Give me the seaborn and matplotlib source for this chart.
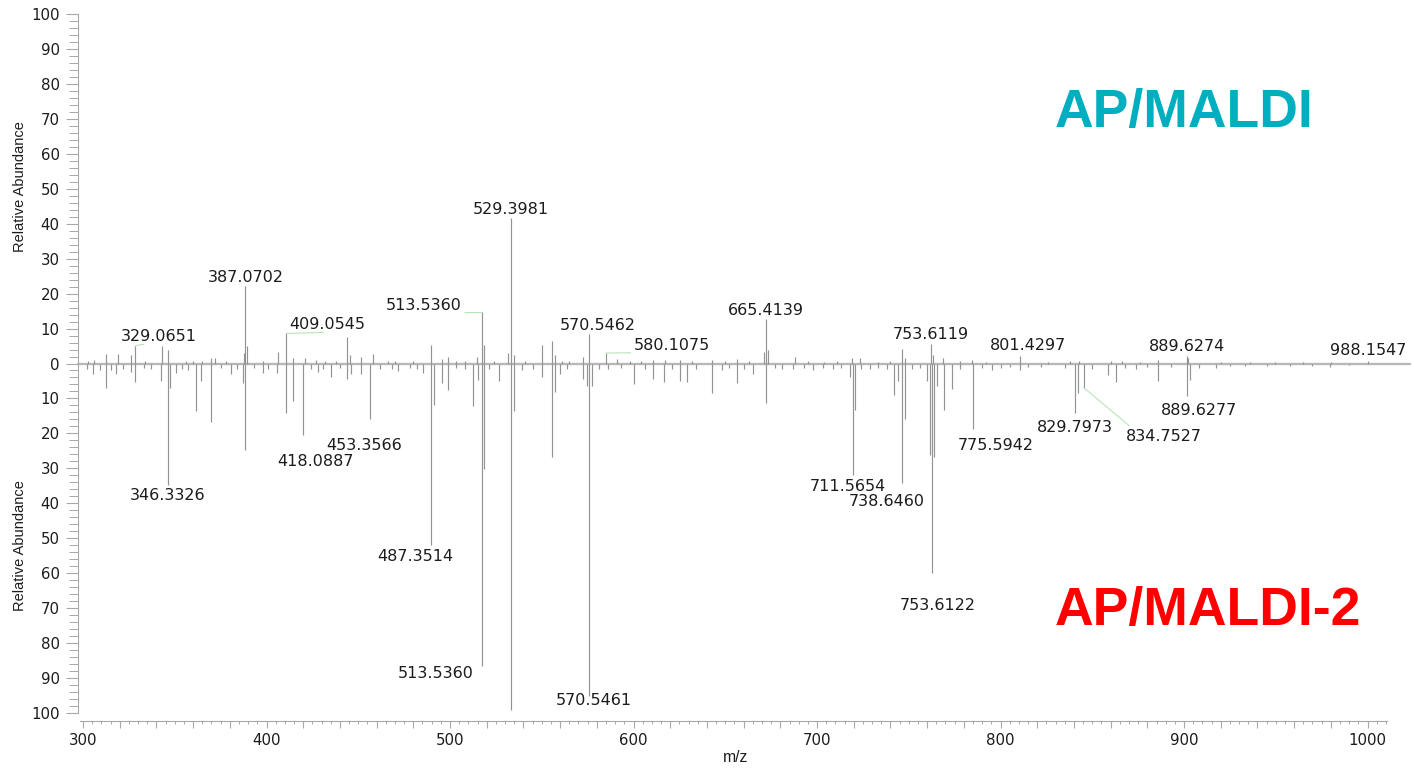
import matplotlib
matplotlib.use("Agg")
import matplotlib.pyplot as plt
import seaborn as sns
import pandas as pd
from matplotlib import font_manager
from matplotlib.ticker import MultipleLocator, FuncFormatter

# ---------------- data ----------------
# AP/MALDI (upper trace): m/z, relative abundance
top_mz = [302.5, 306.0, 312.7, 319.0, 326.3, 328.5, 334.0, 343.0, 346.3, 356.0, 360.0, 365.0,
          370.0, 371.8, 378.0, 387.6, 388.5, 389.5, 398.0, 406.3, 410.8, 414.4, 420.8, 427.0,
          432.0, 438.0, 444.0, 445.3, 451.7, 458.3, 466.0, 470.0, 480.0, 489.6, 495.5, 499.1,
          503.0, 508.0, 514.5, 517.3, 518.5, 524.0, 531.8, 533.1, 534.9, 541.0, 550.0, 555.4,
          557.2, 561.0, 565.0, 572.7, 575.9, 585.0, 590.8, 598.0, 604.0, 610.8, 617.2, 625.3,
          632.0, 642.6, 650.0, 656.2, 663.0, 671.1, 672.2, 673.5, 688.0, 695.0, 704.0, 711.0,
          718.9, 723.4, 733.0, 740.0, 746.1, 748.0, 762.0, 763.4, 768.9, 778.0, 784.5, 792.0,
          810.4, 826.0, 838.0, 843.0, 860.0, 866.0, 876.0, 885.6, 901.4, 902.3, 920.0, 936.0,
          949.7, 965.0, 980.0, 1000.5]
top_int = [0.8, 1.0, 2.7, 2.7, 2.3, 5.1, 0.8, 4.9, 4.0, 0.8, 0.7, 0.8,
           1.5, 1.5, 0.6, 2.9, 22.3, 4.9, 0.6, 3.4, 8.6, 1.5, 1.5, 1.0,
           0.8, 0.6, 7.5, 2.5, 2.0, 2.8, 0.6, 0.8, 0.6, 5.2, 1.4, 1.8,
           0.8, 0.6, 2.0, 14.6, 5.3, 0.8, 3.0, 41.5, 2.5, 0.8, 5.2, 6.5,
           2.5, 0.8, 0.6, 1.8, 8.4, 3.0, 1.3, 0.8, 0.6, 1.0, 1.0, 1.0,
           0.7, 1.0, 0.7, 1.2, 0.6, 3.2, 12.8, 4.0, 1.9, 0.6, 0.5, 0.6,
           1.7, 1.7, 0.5, 0.7, 4.1, 1.5, 5.6, 2.5, 1.5, 0.8, 1.0, 0.5,
           2.2, 0.5, 0.8, 0.7, 0.7, 0.6, 0.5, 1.0, 2.2, 1.5, 0.5, 0.4,
           0.5, 0.4, 0.3, 0.6]

# AP/MALDI-2 (lower, mirrored trace): m/z, relative abundance
bot_mz = [302.0, 305.4, 309.0, 312.4, 315.0, 318.0, 322.0, 326.3, 328.5, 333.0, 337.0, 342.7,
          346.3, 347.6, 350.8, 354.0, 357.0, 361.7, 364.5, 370.0, 375.0, 380.8, 384.0, 387.2,
          388.5, 393.0, 398.0, 401.0, 405.9, 410.8, 414.4, 419.9, 424.0, 428.0, 431.0, 435.3,
          440.0, 444.0, 446.2, 451.7, 456.2, 462.0, 468.2, 471.8, 478.0, 482.0, 485.5, 489.6,
          491.3, 495.5, 499.1, 503.0, 508.0, 512.4, 515.4, 517.3, 518.5, 521.0, 526.9, 533.1,
          535.0, 539.0, 545.0, 550.0, 555.4, 557.2, 560.0, 564.0, 572.7, 574.5, 575.9, 577.2,
          581.0, 586.0, 593.0, 600.2, 606.0, 610.8, 616.5, 621.0, 625.3, 628.9, 634.0, 642.6,
          648.0, 652.0, 656.2, 660.0, 664.9, 672.2, 677.0, 681.0, 687.1, 693.0, 698.0, 703.0,
          708.9, 713.0, 718.0, 719.5, 720.7, 724.0, 728.9, 733.0, 738.0, 741.9, 744.3, 746.5,
          748.1, 752.0, 756.0, 759.8, 761.6, 762.5, 763.8, 765.2, 769.2, 773.4, 778.0, 784.8,
          790.0, 795.5, 800.0, 805.0, 810.4, 815.0, 822.0, 835.0, 840.5, 842.0, 845.3, 850.0,
          858.4, 862.8, 868.0, 873.6, 880.0, 885.6, 893.0, 901.8, 903.3, 908.0, 917.2, 925.0,
          933.0, 945.0, 958.0, 970.0, 979.4, 990.0]
bot_int = [1.5, 3.1, 1.8, 6.9, 2.0, 3.0, 1.5, 2.5, 5.3, 1.2, 1.5, 5.0,
           34.9, 6.9, 2.6, 1.5, 2.0, 13.7, 5.0, 16.6, 1.2, 3.1, 1.5, 5.5,
           24.7, 1.2, 2.6, 1.5, 2.6, 14.2, 10.8, 20.4, 1.5, 2.3, 1.5, 4.0,
           1.2, 4.4, 3.0, 3.0, 15.8, 1.5, 1.7, 2.2, 1.2, 1.5, 2.7, 51.8,
           11.8, 5.6, 7.5, 1.2, 1.5, 12.3, 4.6, 86.5, 30.1, 1.5, 5.0, 99.0,
           13.7, 2.0, 1.5, 4.0, 26.7, 8.2, 3.0, 1.5, 4.4, 6.3, 95.1, 6.3,
           1.5, 1.5, 1.2, 5.8, 1.5, 4.4, 5.4, 1.5, 5.0, 5.2, 1.5, 8.4,
           2.0, 1.2, 5.5, 1.5, 2.9, 11.3, 1.2, 1.5, 1.7, 1.2, 2.0, 1.2,
           1.5, 1.2, 4.0, 32.0, 13.2, 1.5, 1.6, 1.2, 1.5, 9.1, 5.0, 34.2,
           15.8, 1.5, 1.2, 5.0, 26.2, 59.8, 26.7, 6.5, 13.3, 7.2, 1.5, 18.7,
           1.2, 2.0, 1.2, 1.0, 2.0, 1.0, 1.0, 1.2, 14.3, 8.4, 6.9, 1.5,
           3.4, 5.4, 1.2, 1.5, 1.0, 4.9, 1.0, 9.2, 4.6, 1.2, 1.4, 0.8,
           0.8, 0.7, 0.6, 0.6, 1.0, 0.5]

# annotated peaks: label text, peak m/z, trace
top_labels = ["329.0651", "387.0702", "409.0545", "513.5360", "529.3981", "570.5462",
              "580.1075", "665.4139", "753.6119", "801.4297", "889.6274", "988.1547"]
top_label_mz = [328.5, 388.5, 410.8, 517.3, 533.1, 575.9, 585.0, 672.2, 762.0, 810.4, 901.4, 1000.5]
bot_labels = ["346.3326", "418.0887", "453.3566", "487.3514", "513.5360", "570.5461",
              "711.5654", "738.6460", "753.6122", "775.5942", "829.7973", "834.7527", "889.6277"]
bot_label_mz = [346.3, 419.9, 456.2, 489.6, 517.3, 575.9, 719.5, 746.5, 762.5, 784.8, 840.5,
                845.3, 901.8]

scan_range = (297.0, 1023.0)
x_limits = (297.0, 1010.6)
title_top = "AP/MALDI"
title_bot = "AP/MALDI-2"

# ---------------- layout / style (pixels) ----------------
top_offsets = [(24, -9), (0, -8.5), (41, -8.5), (-58, -7), (0, -9), (8, -8.5),
               (66, -8), (0, -8.5), (0, -9), (8, -10), (0, -9), (0, -11)]
# leader: None or relative anchor on the label box
top_leader = [(0.3, 0.0), None, (0.45, 0.0), (0.62, 0.0), None, None,
              (0.4, 0.0), None, None, None, None, None]
bot_offsets = [(0, 10), (12, 27), (-6, 27), (-16, 12), (-46, 8), (5, 5),
               (-5, 11), (-16, 18), (6, 33), (23, 17), (0, 14), (80, 49), (12, 15)]
bot_leader = [None] * 11 + [(0.1, 1.0), None]

sns.set_theme(style="ticks")
plt.rcParams["font.family"] = ["DejaVu Sans"]

names = {f.name for f in font_manager.fontManager.ttflist}
if "Liberation Sans Narrow" in names:
    lab_font, lab_size = ["Liberation Sans Narrow", "Liberation Sans"], 12.5
else:
    lab_font, lab_size = ["Liberation Sans", "DejaVu Sans"], 10.5

W, H = 1414, 768
fig = plt.figure(figsize=(W / 100, H / 100), dpi=100)
ax = fig.add_axes([77.5 / W, 1 - 713 / H, (1387 - 77.5) / W, (713 - 14) / H])

stem_color = "#939393"
axis_color = "#a8a8a8"
text_color = "#1c1c1c"

df_top = pd.DataFrame({"mz": top_mz, "intensity": top_int})
df_bot = pd.DataFrame({"mz": bot_mz, "intensity": bot_int})

# baseline
sns.lineplot(x=list(scan_range), y=[0, 0], ax=ax, color="#b8b8b8", lw=1.7, clip_on=False, zorder=1)
# stick spectra
ax.vlines(df_top["mz"], 0, df_top["intensity"], color=stem_color, lw=0.85, zorder=2)
ax.vlines(df_bot["mz"], 0, -df_bot["intensity"], color=stem_color, lw=0.85, zorder=2)

ax.set_xlim(*x_limits)
ax.set_ylim(-100, 100)

lookup_top = dict(zip(top_mz, top_int))
lookup_bot = dict(zip(bot_mz, bot_int))
px2pt = 0.72


def leader(rel):
    if rel is None:
        return None
    return dict(arrowstyle="-", color="#b9e4b9", lw=0.8, shrinkA=0, shrinkB=0, relpos=rel)


for txt, mz, (dx, dy), lead in zip(top_labels, top_label_mz, top_offsets, top_leader):
    ax.annotate(txt, xy=(mz, lookup_top[mz]), xytext=(dx * px2pt, -dy * px2pt),
                textcoords="offset points", ha="center", va="center", fontsize=11.5,
                color=text_color, annotation_clip=False, arrowprops=leader(lead))
for txt, mz, (dx, dy), lead in zip(bot_labels, bot_label_mz, bot_offsets, bot_leader):
    ax.annotate(txt, xy=(mz, -lookup_bot[mz]), xytext=(dx * px2pt, -dy * px2pt),
                textcoords="offset points", ha="center", va="center", fontsize=11.5,
                color=text_color, annotation_clip=False, arrowprops=leader(lead))

# axes styling
ax.spines["top"].set_visible(False)
ax.spines["right"].set_visible(False)
for s in ("left", "bottom"):
    ax.spines[s].set_color(axis_color)
    ax.spines[s].set_linewidth(0.8)
ax.spines["bottom"].set_position(("outward", 8 * px2pt))
ax.spines["bottom"].set_bounds(298.6, x_limits[1])

ax.yaxis.set_major_locator(MultipleLocator(10))
ax.yaxis.set_minor_locator(MultipleLocator(2))
ax.yaxis.set_major_formatter(FuncFormatter(lambda v, p: f"{abs(int(round(v)))}"))
ax.xaxis.set_major_locator(MultipleLocator(20))
ax.xaxis.set_minor_locator(MultipleLocator(5))
ax.xaxis.set_major_formatter(FuncFormatter(lambda v, p: f"{int(round(v))}" if round(v) % 100 == 0 else ""))

ax.tick_params(axis="y", which="major", direction="out", length=8.6, width=0.8,
               color=axis_color, labelsize=10.8, labelcolor=text_color, pad=4.3)
ax.tick_params(axis="y", which="minor", direction="out", length=6.2, width=0.7, color=axis_color)
ax.tick_params(axis="x", which="major", direction="out", length=5.2, width=0.8,
               color=axis_color, labelsize=10.8, labelcolor=text_color, pad=3.6)
ax.tick_params(axis="x", which="minor", direction="out", length=2.2, width=0.7, color=axis_color)
ax.grid(False)

# axis titles
fig.text(20 / W, 1 - 187 / H, "Relative Abundance", rotation=90, ha="center", va="center",
         family=lab_font, fontsize=lab_size, color=text_color)
fig.text(20 / W, 1 - 546 / H, "Relative Abundance", rotation=90, ha="center", va="center",
         family=lab_font, fontsize=lab_size, color=text_color)
fig.text(736 / W, 1 - 757 / H, "m/z", ha="center", va="center",
         family=lab_font, fontsize=lab_size * 1.08, color=text_color)

# panel titles
fig.text(1055 / W, 1 - 127.5 / H, title_top, ha="left", va="baseline",
         family=["Liberation Sans", "DejaVu Sans"], fontweight="bold", fontsize=38.5, color="#00AFBF")
fig.text(1055 / W, 1 - 625 / H, title_bot, ha="left", va="baseline",
         family=["Liberation Sans", "DejaVu Sans"], fontweight="bold", fontsize=38.5, color="#FF0000")

fig.savefig("out.png", dpi=100, facecolor="white")
